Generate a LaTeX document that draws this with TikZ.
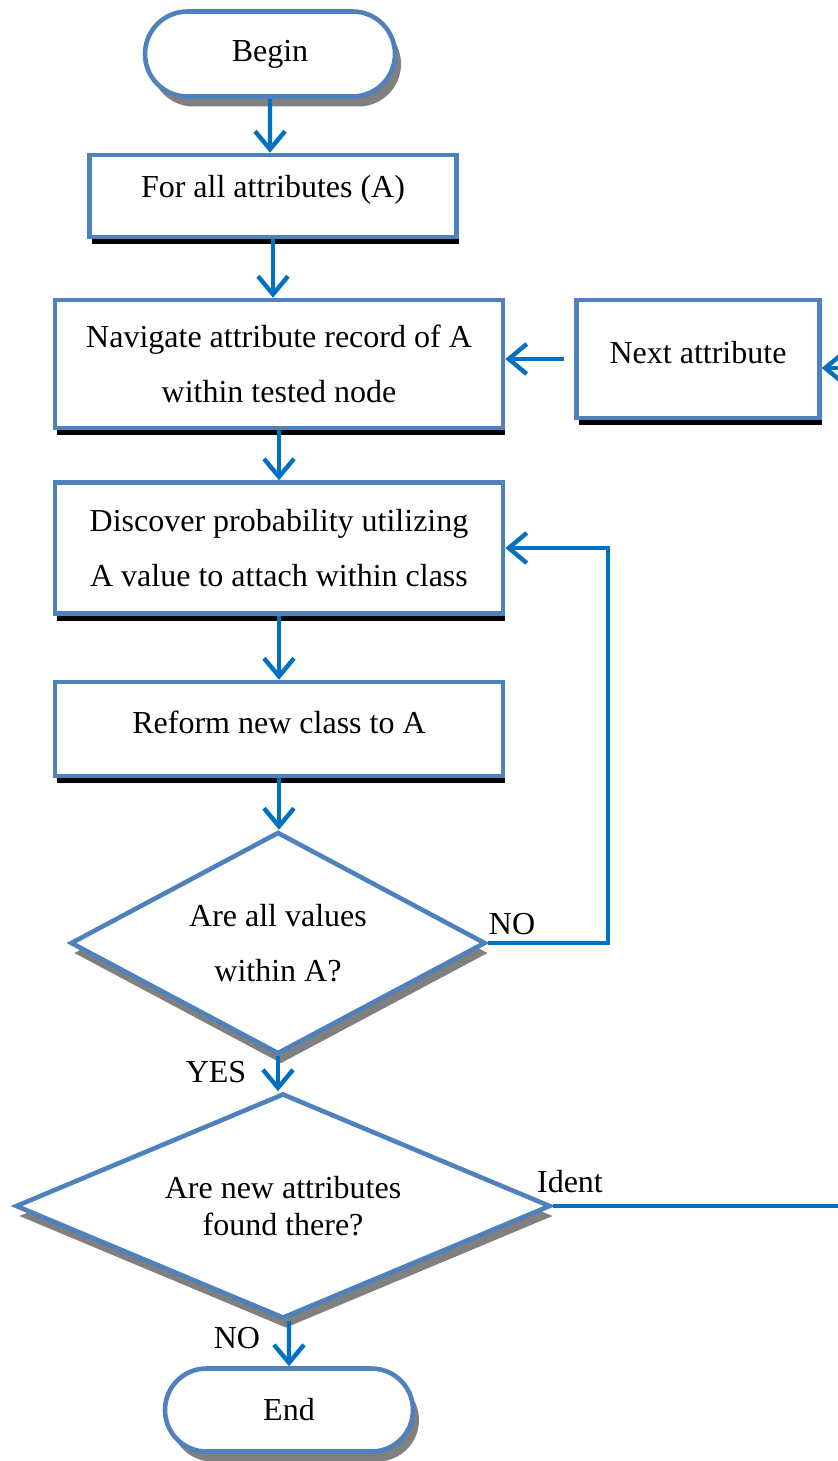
\documentclass[tikz,border=0pt]{standalone}
\usepackage{fontspec}
\setmainfont{Liberation Serif}
\usetikzlibrary{shapes.geometric,shapes.misc,shadows,arrows.meta}
\definecolor{boxblue}{HTML}{4F81BD}
\definecolor{flowblue}{HTML}{0070C0}

\begin{document}
\begin{tikzpicture}[x=0.5pt,y=-0.5pt,
	every node/.style={font=\fontsize{16}{27.5}\selectfont,inner sep=0pt,align=center},
	term/.style={rounded rectangle,draw=boxblue,line width=2.3pt,fill=white,minimum width=125pt,minimum height=42.5pt,drop shadow={shadow xshift=3pt,shadow yshift=-5pt,fill=gray,opacity=1}},
	proc/.style={rectangle,draw=boxblue,line width=2.3pt,fill=white,drop shadow={shadow xshift=1pt,shadow yshift=-3.5pt,fill=black,opacity=1}},
	decide/.style={diamond,shape aspect=2,draw=boxblue,line width=2.3pt,fill=white,drop shadow={shadow xshift=1.5pt,shadow yshift=-5pt,fill=gray,opacity=1}},
	flow/.style={draw=flowblue,line width=2.2pt,-{Straight Barb[length=9pt,width=15pt]}}]
	\useasboundingbox (0,0) rectangle (838,1461);
	\node [term] (begin) at (270,54) {Begin};
	\node [proc,minimum width=183.5pt,minimum height=41pt,text depth=9.5pt] (forall) at (273,196) {For all attributes (A)};
	\node [proc,minimum width=224pt,minimum height=64pt] (navig) at (279,364) {Navigate attribute record of A\\within tested node};
	\node [proc,minimum width=121.5pt,minimum height=59pt,text depth=7pt] (nextattr) at (698,359) {Next attribute};
	\node [proc,minimum width=224pt,minimum height=65.5pt] (discover) at (279,548) {Discover probability utilizing\\A value to attach within class};
	\node [proc,minimum width=224pt,minimum height=47pt,text depth=7pt] (reform) at (279,729) {Reform new class to A};
	\node [decide,minimum width=207.5pt,minimum height=111pt] (dec1) at (278,943) {Are all values\\within A?};
	\node [decide,minimum width=267.5pt,minimum height=112.5pt,font=\fontsize{16}{18.5}\selectfont] (dec2) at (283,1206) {Are new attributes\\found there?};
	\node [term,minimum width=124pt,minimum height=41.5pt] (endnode) at (289,1410) {End};
	\node (nolabel) at (512,924) {NO};
	\node (yeslabel) at (216,1072) {YES};
	\node (identlabel) at (570,1182) {Ident};
	\node (nolabel2) at (237,1338) {NO};
	\coordinate (identend) at (838,1206);
	\coordinate (loopend) at (838,368);
	\draw [flow] (begin) -- (begin |- forall.north);
	\draw [flow] (forall) -- (forall |- navig.north);
	\draw [flow] (navig) -- (navig |- discover.north);
	\draw [flow] (discover) -- (discover |- reform.north);
	\draw [flow] (reform) -- (reform |- dec1.north);
	\draw [flow] (dec1) -- (dec1 |- dec2.north);
	\draw [flow] (dec2.south -| endnode) -- (endnode);
	\draw [flow,shorten <=5pt] (nextattr) -- (nextattr -| navig.east);
	\draw [flow] (dec1.east) -- ++(120,0) |- (discover.east);
	\draw [draw=flowblue,line width=2.2pt] (dec2.east) -- (identend);
	\draw [flow] (loopend) -- (loopend -| nextattr.east);
\end{tikzpicture}
\end{document}
